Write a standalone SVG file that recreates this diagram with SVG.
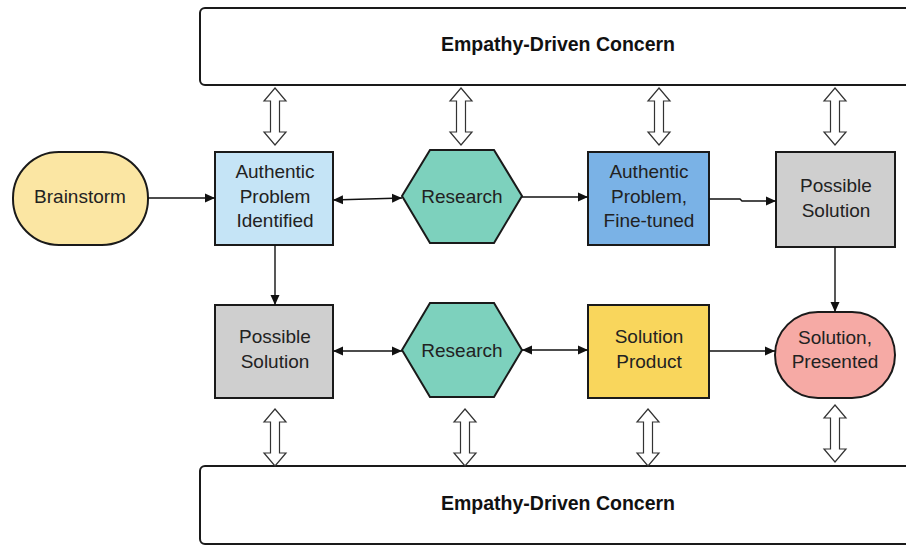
<svg xmlns="http://www.w3.org/2000/svg" width="906" height="546" viewBox="0 0 906 546">
<style>
.node{stroke:#1a1a1a;stroke-width:2}
.t{font-family:"Liberation Sans",Arial,sans-serif;font-size:19px;fill:#222;text-anchor:middle}
.b{font-family:"Liberation Sans",Arial,sans-serif;font-size:19.5px;font-weight:bold;fill:#111;text-anchor:middle}
.c{stroke:#111;stroke-width:1.4;fill:none}
.ha{fill:#fff;stroke:#333;stroke-width:1.2}
</style>
<defs>
<marker id="ah" viewBox="0 0 10 10" refX="10" refY="5" markerWidth="10" markerHeight="10" markerUnits="userSpaceOnUse" orient="auto-start-reverse">
<path d="M0,0.5 L10,5 L0,9.5 Z" fill="#111"/>
</marker>
<path id="dbl" class="ha" d="M0,0 L11,13 L4.5,13 L4.5,44 L11,44 L0,57 L-11,44 L-4.5,44 L-4.5,13 L-11,13 Z"/>
</defs>
<rect width="906" height="546" fill="#fff"/>

<g id="concern-top">
<rect class="node" x="200" y="8" width="710" height="77" rx="5" fill="#fff"/>
<text class="b" x="558" y="51">Empathy-Driven Concern</text>
</g>
<g id="concern-bottom">
<rect class="node" x="200" y="466" width="710" height="78" rx="5" fill="#fff"/>
<text class="b" x="558" y="510">Empathy-Driven Concern</text>
</g>

<g id="brainstorm">
<rect class="node" x="13" y="152" width="135" height="93" rx="46" fill="#fbe6a3"/>
<text class="t" x="80" y="203">Brainstorm</text>
</g>
<g id="api">
<rect class="node" x="215" y="152" width="118" height="93" fill="#c5e4f6"/>
<text class="t" x="275" y="178">Authentic</text>
<text class="t" x="275" y="202.5">Problem</text>
<text class="t" x="275" y="227">Identified</text>
</g>
<g id="research1">
<polygon class="node" points="402,196 430,150 494,150 522,196 494,243 430,243" fill="#7dd1bd"/>
<text class="t" x="462" y="202.5">Research</text>
</g>
<g id="apft">
<rect class="node" x="588" y="152" width="121" height="93" fill="#7ab2e6"/>
<text class="t" x="649" y="178">Authentic</text>
<text class="t" x="649" y="202.5">Problem,</text>
<text class="t" x="649" y="227">Fine-tuned</text>
</g>
<g id="ps1">
<rect class="node" x="776" y="152" width="119" height="95" fill="#cfcfcf"/>
<text class="t" x="836" y="191.5">Possible</text>
<text class="t" x="836" y="216.5">Solution</text>
</g>
<g id="ps2">
<rect class="node" x="215" y="305" width="118" height="93" fill="#cfcfcf"/>
<text class="t" x="275" y="343">Possible</text>
<text class="t" x="275" y="367.5">Solution</text>
</g>
<g id="research2">
<polygon class="node" points="402,350 430,303 494,303 522,350 494,397 430,397" fill="#7dd1bd"/>
<text class="t" x="462" y="356.5">Research</text>
</g>
<g id="sp">
<rect class="node" x="588" y="305" width="121" height="93" fill="#f9d65c"/>
<text class="t" x="649" y="343">Solution</text>
<text class="t" x="649" y="367.5">Product</text>
</g>
<g id="spres">
<rect class="node" x="775" y="312" width="120" height="86" rx="43" fill="#f6aaa5"/>
<text class="t" x="835" y="343.5">Solution,</text>
<text class="t" x="835" y="368">Presented</text>
</g>

<g id="connectors">
<line class="c" x1="148" y1="198" x2="215" y2="198" marker-end="url(#ah)"/>
<line class="c" x1="333" y1="200" x2="402" y2="198" marker-start="url(#ah)" marker-end="url(#ah)"/>
<line class="c" x1="522" y1="197" x2="588" y2="197" marker-end="url(#ah)"/>
<polyline class="c" points="709,199 740,199 742,201 776,201" marker-end="url(#ah)"/>
<line class="c" x1="275" y1="245" x2="275" y2="305" marker-end="url(#ah)"/>
<line class="c" x1="835" y1="247" x2="835" y2="312" marker-end="url(#ah)"/>
<line class="c" x1="333" y1="351" x2="402" y2="351" marker-start="url(#ah)" marker-end="url(#ah)"/>
<line class="c" x1="522" y1="350" x2="588" y2="350" marker-start="url(#ah)" marker-end="url(#ah)"/>
<line class="c" x1="709" y1="351" x2="775" y2="351" marker-end="url(#ah)"/>
<use href="#dbl" x="275" y="88"/>
<use href="#dbl" x="461" y="88"/>
<use href="#dbl" x="659" y="88"/>
<use href="#dbl" x="835" y="88"/>
<use href="#dbl" x="275" y="409"/>
<use href="#dbl" x="465" y="409"/>
<use href="#dbl" x="648" y="409"/>
<use href="#dbl" x="835" y="405"/>
</g>
</svg>
